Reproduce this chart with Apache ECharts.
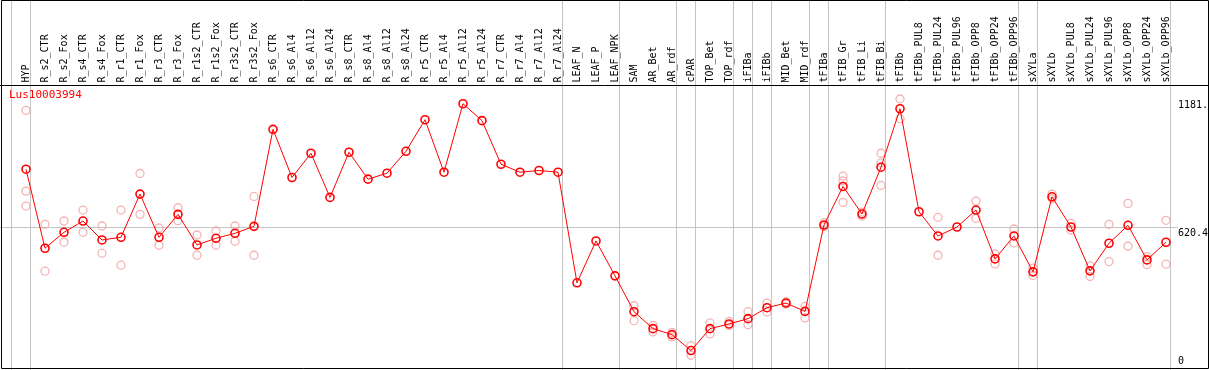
<!DOCTYPE html>
<html><head><meta charset="utf-8">
<script src="https://cdn.jsdelivr.net/npm/echarts@6/dist/echarts.min.js"></script>
<style>html,body{margin:0;padding:0;background:#fff}#c{width:1209px;height:370px}</style>
</head><body><div id="c"></div>
<script>
const geneName = 'Lus10003994';
const categories = ['HYP','R_s2_CTR','R_s2_Fox','R_s4_CTR','R_s4_Fox','R_r1_CTR','R_r1_Fox','R_r3_CTR','R_r3_Fox','R_r1s2_CTR','R_r1s2_Fox','R_r3s2_CTR','R_r3s2_Fox','R_s6_CTR','R_s6_Al4','R_s6_Al12','R_s6_Al24','R_s8_CTR','R_s8_Al4','R_s8_Al12','R_s8_Al24','R_r5_CTR','R_r5_Al4','R_r5_Al12','R_r5_Al24','R_r7_CTR','R_r7_Al4','R_r7_Al12','R_r7_Al24','LEAF_N','LEAF_P','LEAF_NPK','SAM','AR_Bet','AR_rdf','cPAR','TOP_Bet','TOP_rdf','iFIBa','iFIBb','MID_Bet','MID_rdf','tFIBa','tFIB_Gr','tFIB_Li','tFIB_Bi','tFIBb','tFIBb_PUL8','tFIBb_PUL24','tFIBb_PUL96','tFIBb_OPP8','tFIBb_OPP24','tFIBb_OPP96','sXYLa','sXYLb','sXYLb_PUL8','sXYLb_PUL24','sXYLb_PUL96','sXYLb_OPP8','sXYLb_OPP24','sXYLb_OPP96'];
const meanValues = [873.8,527.3,597.1,646.6,563.6,575.3,764.6,575.3,675.8,541.8,570.9,592.7,623.3,
  1048.6,837.5,943.7,750.1,948.1,830.1,856.3,952.4,1090.9,860.7,1160.8,1086.6,895.6,860.7,868.1,860.7,
  375.7,559.2,406.3,
  249.0,174.8,148.5,78.6,174.8,195.3,218.5,266.5,287.0,250.3,
  629.1,798.2,677.2,882.5,1138.9,
  687.3,581.1,620.4,694.7,480.6,581.1,
  423.8,752.8,620.4,428.2,549.2,627.8,476.2,553.5];
const rep1 = [1131.6,632.1,646.6,694.7,624.8,694.7,854.9,616.0,704.8,585.4,602.9,624.8,754.4,
  null,null,null,null,null,null,null,null,null,null,null,null,null,null,null,null,
  null,null,null,
  275.2,189.2,158.6,100.5,199.7,206.7,249.0,287.0,292.7,272.2,
  639.2,843.2,686.0,943.7,1181.7,
  null,662.8,null,734.0,502.4,611.7,
  440.0,764.6,636.6,450.0,632.1,723.9,490.6,649.7];
const rep2 = [712.1,426.7,553.5,597.1,505.5,453.0,675.8,540.3,648.0,496.6,540.3,557.8,496.6,
  null,null,null,null,null,null,null,null,null,null,null,null,null,null,null,null,
  null,null,null,
  209.7,160.3,138.5,58.1,151.6,189.2,192.2,247.7,282.7,221.5,
  621.7,728.3,668.5,802.6,1095.3,
  null,496.6,null,658.4,458.7,550.5,
  407.6,744.0,607.3,403.3,468.8,536.1,455.7,457.4];
const rep3 = [777.7,null,null,null,null,null,null,null,null,null,null,null,null,
  null,null,null,null,null,null,null,null,null,null,null,null,null,null,null,null,
  null,null,null,
  null,null,null,null,null,null,null,null,null,null,
  null,822.7,null,901.3,null,
  null,null,null,null,null,null,
  null,null,null,null,null,null,null,null];
const groupEnds = [-1,0,28,31,34,35,37,38,39,41,42,45,52,53,60];
const yMax = 1240.8;
const yTickValues = [0, 620.4, 1181.7];
const yTickLabels = ['0', '620.4', '1181.'];

const FONT = 'DejaVu Sans Mono';
const sepOffset = 0.263;
const repData = [];
[rep1, rep2, rep3].forEach(r => r.forEach((v, i) => { if (v != null) repData.push([i, v]); }));

const chart = echarts.init(document.getElementById('c'), null, {renderer: 'canvas'});
const option = {
  animation: false,
  backgroundColor: '#fff',
  title: {text: geneName, left: 9, top: 90, padding: 0,
    textStyle: {color: '#ff0000', fontSize: 11, fontWeight: 'normal', fontFamily: FONT}},
  grid: {left: 2, right: 38, top: 85.5, bottom: 1.5, containLabel: false, outerBoundsMode: 'none'},
  xAxis: {
    type: 'value', position: 'top', min: -1.263, max: 60.263,
    axisLine: {show: false}, axisTick: {show: false}, splitLine: {show: false},
    axisLabel: {
      customValues: categories.map((c, i) => i),
      formatter: v => categories[Math.round(v)],
      rotate: 90, margin: 3, fontSize: 10, fontFamily: FONT, color: '#000'
    }
  },
  yAxis: {
    type: 'value', position: 'right', min: 0, max: yMax,
    axisLine: {show: false}, axisTick: {show: false}, splitLine: {show: false},
    axisLabel: {
      customValues: yTickValues,
      formatter: v => {
        const k = yTickValues.indexOf(v);
        const t = k >= 0 ? yTickLabels[k] : '';
        return v === 0 ? '{z|' + t + '}' : '{a|' + t + '}';
      },
      margin: 7, fontSize: 10, fontFamily: FONT, color: '#000', hideOverlap: false,
      rich: {
        a: {padding: [12, 0, 0, 0], fontSize: 10, fontFamily: FONT, color: '#000'},
        z: {padding: [0, 0, 14, 0], fontSize: 10, fontFamily: FONT, color: '#000'}
      }
    }
  },
  series: [
    {type: 'scatter', data: repData, symbol: 'circle', symbolSize: 8, silent: true, z: 3,
     itemStyle: {color: 'rgba(0,0,0,0)', borderColor: '#f0a0a0', borderWidth: 1.3}},
    {type: 'line', data: meanValues.map((v, i) => [i, v]), symbol: 'circle', symbolSize: 8, z: 4,
     showAllSymbol: true, silent: true,
     lineStyle: {color: '#ff0000', width: 1},
     itemStyle: {color: 'rgba(0,0,0,0)', borderColor: '#ff0000', borderWidth: 1.6}}
  ]
};
chart.setOption(option);

const W = 1209, H = 370;
const g = [];
groupEnds.forEach(e => {
  const x = Math.round(chart.convertToPixel({xAxisIndex: 0}, e + sepOffset)) - 0.5;
  g.push({type: 'line', silent: true, z: 0, shape: {x1: x, y1: 0, x2: x, y2: H},
    style: {stroke: '#c4c4c4', lineWidth: 1}});
});
const gy = Math.round(chart.convertToPixel({yAxisIndex: 0}, yTickValues[1])) + 0.5;
g.push({type: 'line', silent: true, z: 0, shape: {x1: 0, y1: gy, x2: 1178, y2: gy},
  style: {stroke: '#c4c4c4', lineWidth: 1}});
g.push({type: 'rect', silent: true, z: 100, shape: {x: 1.5, y: 0.5, width: 1207, height: 368},
  style: {fill: null, stroke: '#000', lineWidth: 1}});
g.push({type: 'line', silent: true, z: 100, shape: {x1: 0, y1: 85.5, x2: W, y2: 85.5},
  style: {stroke: '#000', lineWidth: 1}});
chart.setOption({graphic: g});
</script>
</body></html>
